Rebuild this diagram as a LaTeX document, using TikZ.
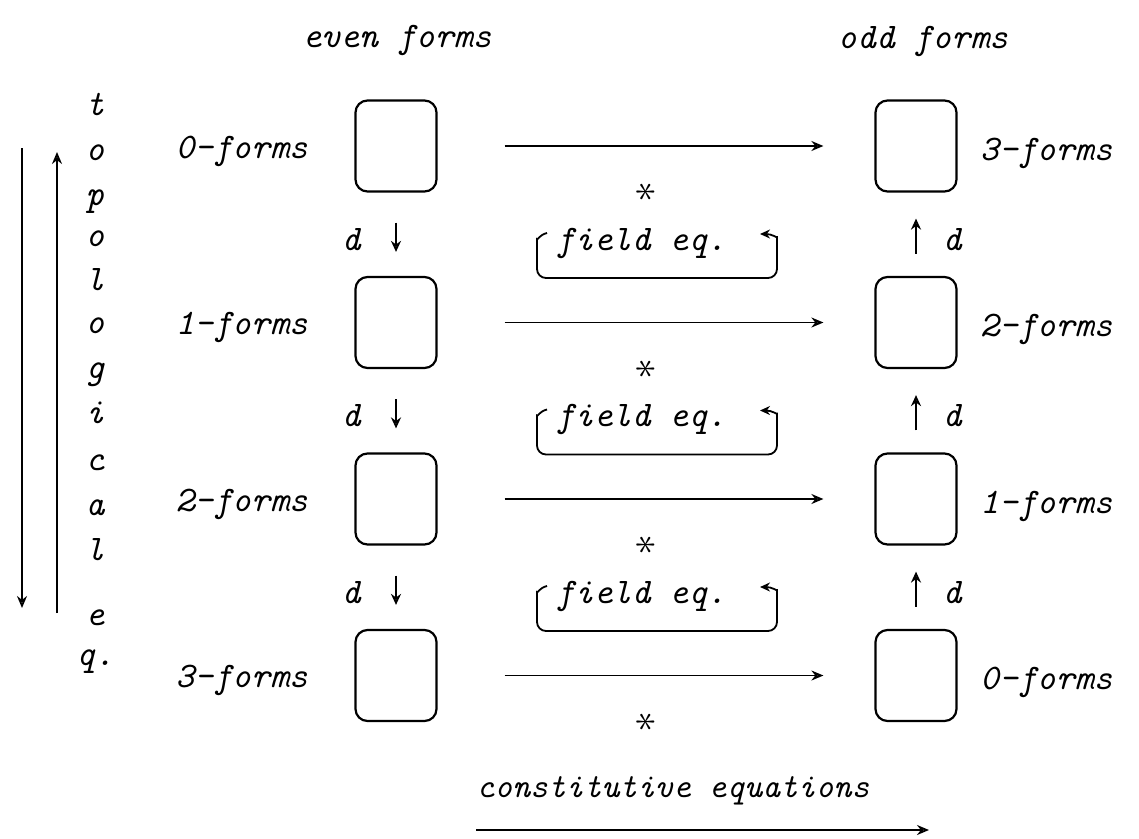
\documentclass[tikz,border=0pt]{standalone}
\usepackage{fontspec}
\usepackage{graphicx}
\usetikzlibrary{arrows.meta,calc}
\begin{document}
\begin{tikzpicture}[x=1pt,y=-1pt,
  lbl/.style={font=\fontsize{36}{40}\selectfont\ttfamily\itshape, inner sep=0pt},
  formbox/.style={draw, line width=2.2pt, rounded corners=12pt, minimum width=81pt, minimum height=91pt, inner sep=0pt},
  conn/.style={line width=1.8pt, -{Stealth[open, length=12pt, width=10pt]}},
  darr/.style={line width=1.8pt, -{Stealth[open, length=11pt, width=10pt]}},
  starlbl/.style={inner sep=0pt},
  brk/.style={line width=1.8pt, rounded corners=9pt, -{Stealth[open, length=10pt, width=9pt]}}
]
\useasboundingbox (0,0) rectangle (1139,838);

% column headers
\node[lbl, anchor=base] (even) at (397,47) {even forms};
\node[lbl, anchor=base] (odd) at (923,48) {odd forms};

% rows of boxes
\foreach \i/\y/\lt/\rt in {0/146/0/3, 1/322.5/1/2, 2/499/2/1, 3/675.5/3/0} {
  \node[formbox] (L\i) at (396,\y) {};
  \node[formbox] (R\i) at (916,\y) {};
  \node[lbl, anchor=base east] (LL\i) at (308,\y+12) {\lt-forms};
  \node[lbl, anchor=base west] (RL\i) at (980,\y+14) {\rt-forms};
  \draw[conn, shorten <=67pt, shorten >=51pt] (L\i) -- (R\i);
  \node[starlbl] (S\i) at (646,\y+46) {\rotatebox{90}{\scalebox{4.2}{$\ast$}}};
}

% d arrows and field equations
\foreach \i/\j/\y in {0/1/146, 1/2/322.5, 2/3/499} {
  \draw[darr, shorten <=30pt, shorten >=24pt] (L\i) -- (L\j);
  \draw[darr, shorten <=22pt, shorten >=26pt] (R\j) -- (R\i);
  \node[lbl, anchor=base] (dl\i) at (351,\y+104) {d};
  \node[lbl, anchor=base] (dr\i) at (952,\y+104) {d};
  \node[lbl, anchor=base] (fe\i) at (641,\y+104) {field eq.};
  \coordinate (bs\i) at (547,\y+87);
  \coordinate (be\i) at (760,\y+88);
  \draw[brk] (bs\i) .. controls (539,\y+89) and (537,\y+95) .. (537,\y+102)
     -- (537,\y+132) -- (777,\y+132) -- (777,\y+100)
     .. controls (777,\y+92) and (772,\y+88) .. (be\i);
}

% topological eq.
\foreach \c/\yy [count=\n] in {t/115, o/160, p/205, o/246, l/290, o/333, g/378, i/423, c/470, a/515, l/560, e/625, q./665} {
  \node[lbl, anchor=base] (v\n) at (95,\yy) {\c};
}
\coordinate (ta) at (22,148);
\coordinate (tb) at (22,608);
\draw[conn] (ta) -- (tb);
\coordinate (ua) at (57,613);
\coordinate (ub) at (57,152);
\draw[conn] (ua) -- (ub);

% constitutive equations
\node[lbl, anchor=base, font=\fontsize{34}{40}\selectfont\ttfamily\itshape] (ce) at (673,797) {constitutive equations};
\coordinate (ca) at (476,830);
\coordinate (cb) at (929,830);
\draw[conn] (ca) -- (cb);
\end{tikzpicture}
\end{document}
